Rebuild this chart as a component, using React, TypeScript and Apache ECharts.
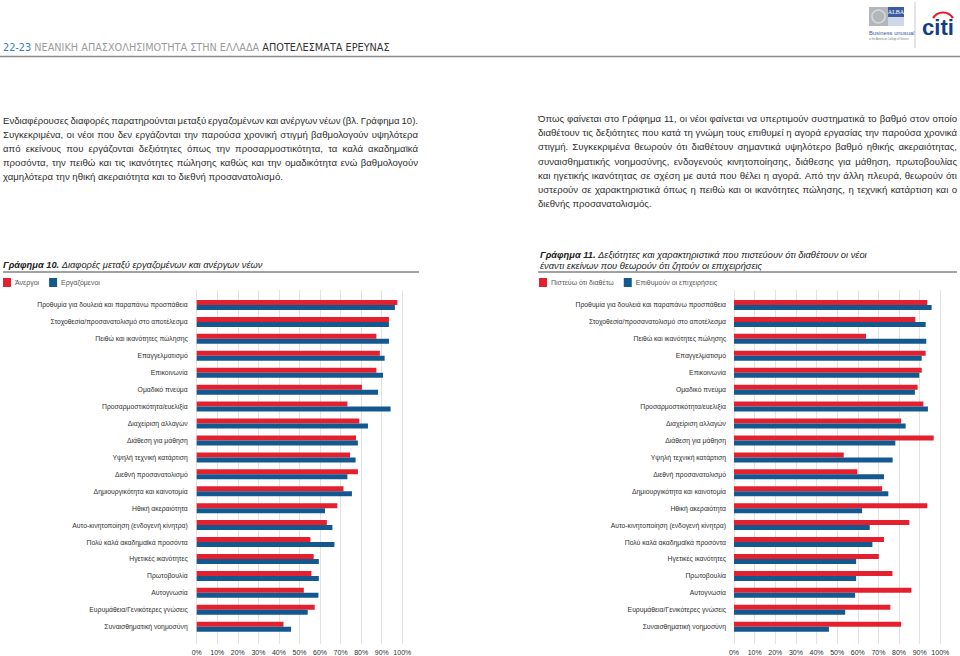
import React, { useEffect, useRef } from 'react';
import * as echarts from 'echarts';

const categories = [
  'Προθυμία για δουλειά και παραπάνω προσπάθεια',
  'Στοχοθεσία/προσανατολισμό στο αποτέλεσμα',
  'Πειθώ και ικανότητες πώλησης',
  'Επαγγελματισμό',
  'Επικοινωνία',
  'Ομαδικό πνεύμα',
  'Προσαρμοστικότητα/ευελιξία',
  'Διαχείριση αλλαγών',
  'Διάθεση για μάθηση',
  'Υψηλή τεχνική κατάρτιση',
  'Διεθνή προσανατολισμό',
  'Δημιουργικότητα και καινοτομία',
  'Ηθική ακεραιότητα',
  'Αυτο-κινητοποίηση (ενδογενή κίνητρα)',
  'Πολύ καλά ακαδημαϊκά προσόντα',
  'Ηγετικές ικανότητες',
  'Πρωτοβουλία',
  'Αυτογνωσία',
  'Ευρυμάθεια/Γενικότερες γνώσεις',
  'Συναισθηματική νοημοσύνη',
];

// Γράφημα 10
const unemployed = [97.6, 93.5, 87.4, 89.1, 87.4, 80.4, 73.3, 79.1, 77.5, 74.6, 78.4, 71.4, 68.4, 63.3, 55.3, 56.9, 55.8, 52.1, 57.4, 42.2];
const employed = [96.4, 93.5, 93.5, 91.4, 90.6, 88.2, 94.3, 83.3, 78.4, 77.3, 73.3, 75.5, 62.4, 66.0, 67.0, 59.4, 59.4, 59.2, 54.0, 45.9];
// Γράφημα 11
const believe = [93.7, 87.9, 64.0, 92.9, 91.0, 89.0, 91.8, 81.0, 96.8, 53.2, 59.8, 71.8, 93.7, 85.0, 72.7, 70.2, 76.8, 86.0, 75.8, 81.0];
const desired = [95.8, 92.9, 93.2, 91.0, 89.8, 87.7, 94.0, 83.2, 78.2, 76.9, 72.7, 74.8, 62.1, 65.8, 67.1, 59.2, 59.2, 58.7, 53.9, 46.0];

const seriesNames10 = ['Άνεργοι', 'Εργαζόμενοι'];
const seriesNames11 = ['Πιστεύω ότι διαθέτω', 'Επιθυμούν οι επιχειρήσεις'];
const xTickSuffix = '%';

const headerNum = '22-23';
const headerLight = 'ΝΕΑΝΙΚΗ ΑΠΑΣΧΟΛΗΣΙΜΟΤΗΤΑ ΣΤΗΝ ΕΛΛΑΔΑ';
const headerBold = 'ΑΠΟΤΕΛΕΣΜΑΤΑ ΕΡΕΥΝΑΣ';

const leftParagraph = [
  'Ενδιαφέρουσες διαφορές παρατηρούνται μεταξύ εργαζομένων και ανέργων νέων (βλ. Γράφημα 10).',
  'Συγκεκριμένα, οι νέοι που δεν εργάζονται την παρούσα χρονική στιγμή βαθμολογούν υψηλότερα',
  'από εκείνους που εργάζονται δεξιότητες όπως την προσαρμοστικότητα, τα καλά ακαδημαϊκά',
  'προσόντα, την πειθώ και τις ικανότητες πώλησης καθώς και την ομαδικότητα ενώ βαθμολογούν',
  'χαμηλότερα την ηθική ακεραιότητα και το διεθνή προσανατολισμό.',
];
const rightParagraph = [
  'Όπως φαίνεται στο Γράφημα 11, οι νέοι φαίνεται να υπερτιμούν συστηματικά το βαθμό στον οποίο',
  'διαθέτουν τις δεξιότητες που κατά τη γνώμη τους επιθυμεί η αγορά εργασίας την παρούσα χρονικά',
  'στιγμή. Συγκεκριμένα θεωρούν ότι διαθέτουν σημαντικά υψηλότερο βαθμό ηθικής ακεραιότητας,',
  'συναισθηματικής νοημοσύνης, ενδογενούς κινητοποίησης, διάθεσης για μάθηση, πρωτοβουλίας',
  'και ηγετικής ικανότητας σε σχέση με αυτά που θέλει η αγορά. Από την άλλη πλευρά, θεωρούν ότι',
  'υστερούν σε χαρακτηριστικά όπως η πειθώ και οι ικανότητες πώλησης, η τεχνική κατάρτιση και ο',
  'διεθνής προσανατολισμός.',
];

const title10 = ['Γράφημα 10.', 'Διαφορές μεταξύ εργαζομένων και ανέργων νέων'];
const title11 = ['Γράφημα 11.', 'Δεξιότητες και χαρακτηριστικά που πιστεύουν ότι διαθέτουν οι νέοι', 'έναντι εκείνων που θεωρούν ότι ζητούν οι επιχειρήσεις'];

const FONT = '"Liberation Sans", Arial, sans-serif';
const NARROW = '"Liberation Sans Narrow", "DejaVu Sans Condensed", "Liberation Sans", sans-serif';
const RED = '#e5202e';
const BLUE = '#13588f';
const TEXT = '#2e2e2e';

let measureCtx: CanvasRenderingContext2D | null = null;
function measure(text: string, font: string) {
  if (!measureCtx) measureCtx = document.createElement('canvas').getContext('2d');
  measureCtx!.font = font;
  return measureCtx!.measureText(text).width;
}

function paragraph(lines: string[], x0: number, x1: number, y0: number, lh: number, size: number) {
  const font = `${size}px ${FONT}`;
  const els: any[] = [];
  lines.forEach((line, i) => {
    const y = y0 + i * lh;
    const baseStyle = { fontSize: size, fontFamily: FONT, fill: TEXT, verticalAlign: 'middle', align: 'left' };
    if (i === lines.length - 1) {
      els.push({ type: 'text', x: x0, y, style: { ...baseStyle, text: line } });
      return;
    }
    const words = line.split(' ');
    const widths = words.map((w) => measure(w, font));
    const total = widths.reduce((a, b) => a + b, 0);
    const gap = Math.max(1.5, (x1 - x0 - total) / (words.length - 1));
    let x = x0;
    words.forEach((w, j) => {
      els.push({ type: 'text', x, y, style: { ...baseStyle, text: w } });
      x += widths[j] + gap;
    });
  });
  return els;
}

function buildGraphic() {
  const els: any[] = [];
  // header
  const hSize = 10.8;
  const hFont = `${hSize}px ${NARROW}`;
  let hx = 3;
  const hy = 47.5;
  els.push({ type: 'text', x: hx, y: hy, style: { text: headerNum, fontSize: hSize, fontFamily: NARROW, fill: '#2f7fb0', verticalAlign: 'middle' } });
  hx += measure(headerNum + ' ', hFont);
  els.push({ type: 'text', x: hx, y: hy, style: { text: headerLight, fontSize: hSize, fontFamily: NARROW, fill: '#9b9b9b', verticalAlign: 'middle' } });
  hx += measure(headerLight + ' ', hFont);
  els.push({ type: 'text', x: hx, y: hy, style: { text: headerBold, fontSize: hSize, fontFamily: NARROW, fill: '#333', verticalAlign: 'middle' } });
  els.push({ type: 'line', shape: { x1: 0, y1: 56.5, x2: 960, y2: 56.5 }, style: { stroke: '#8c8c8c', lineWidth: 1.5 } });

  // ALBA logo
  els.push({ type: 'rect', shape: { x: 869, y: 7, width: 19, height: 19 }, style: { fill: '#b3b7bc' } });
  els.push({ type: 'circle', shape: { cx: 878.5, cy: 16.5, r: 6.5 }, style: { fill: 'none', stroke: '#d6d8db', lineWidth: 1.5 } });
  els.push({ type: 'rect', shape: { x: 888, y: 7, width: 16, height: 10 }, style: { fill: '#3b5ca3' } });
  els.push({ type: 'text', x: 896, y: 12.2, style: { text: 'ALBA', fontSize: 6, fontFamily: '"Liberation Serif", serif', fill: '#fff', align: 'center', verticalAlign: 'middle' } });
  els.push({ type: 'rect', shape: { x: 888, y: 17, width: 16, height: 9 }, style: { fill: '#cfd6e6' } });
  els.push({ type: 'text', x: 869, y: 33, style: { text: 'Business unusual', fontSize: 5.8, fontFamily: FONT, fill: '#3b5ca3', verticalAlign: 'middle' } });
  els.push({ type: 'text', x: 869, y: 39, style: { text: 'at the American College of Greece', fontSize: 2.6, fontFamily: FONT, fill: '#777', verticalAlign: 'middle' } });
  els.push({ type: 'line', shape: { x1: 915, y1: 2, x2: 915, y2: 48 }, style: { stroke: '#c8c8c8', lineWidth: 1 } });
  // citi logo
  els.push({ type: 'text', x: 938, y: 27, style: { text: 'citi', fontSize: 22, fontWeight: 'bold', fontFamily: FONT, fill: '#123e84', align: 'center', verticalAlign: 'middle' } });
  els.push({ type: 'arc', shape: { cx: 943, cy: 24, r: 11.5, startAngle: Math.PI * 1.17, endAngle: Math.PI * 1.83, clockwise: true }, style: { stroke: '#e31b23', lineWidth: 2.2, fill: 'none' } });

  // paragraphs
  els.push(...paragraph(leftParagraph, 3, 418, 120, 14.2, 9.6));
  els.push(...paragraph(rightParagraph, 538, 957, 118.5, 14.2, 9.6));

  // titles
  const tSize = 9.3;
  const boldFont = `italic bold ${tSize}px ${FONT}`;
  const t10w = measure(title10[0] + ' ', boldFont);
  els.push({ type: 'text', x: 3, y: 265, style: { text: title10[0], fontSize: tSize, fontStyle: 'italic', fontWeight: 'bold', fontFamily: FONT, fill: '#222', verticalAlign: 'middle' } });
  els.push({ type: 'text', x: 3 + t10w, y: 265, style: { text: title10[1], fontSize: tSize, fontStyle: 'italic', fontFamily: FONT, fill: '#222', verticalAlign: 'middle' } });
  els.push({ type: 'line', shape: { x1: 3, y1: 272, x2: 419, y2: 272 }, style: { stroke: '#444', lineWidth: 1 } });

  const t11w = measure(title11[0] + ' ', boldFont);
  els.push({ type: 'text', x: 540, y: 255, style: { text: title11[0], fontSize: tSize, fontStyle: 'italic', fontWeight: 'bold', fontFamily: FONT, fill: '#222', verticalAlign: 'middle' } });
  els.push({ type: 'text', x: 540 + t11w, y: 255, style: { text: title11[1], fontSize: tSize, fontStyle: 'italic', fontFamily: FONT, fill: '#222', verticalAlign: 'middle' } });
  els.push({ type: 'text', x: 540, y: 266, style: { text: title11[2], fontSize: tSize, fontStyle: 'italic', fontFamily: FONT, fill: '#222', verticalAlign: 'middle' } });
  els.push({ type: 'line', shape: { x1: 538, y1: 272, x2: 957, y2: 272 }, style: { stroke: '#444', lineWidth: 1 } });
  return els;
}

function buildOption(): any {
  const barTop = 296.5;
  const barH = 338.7;
  const lineTop = 290;
  const lineH = 356;
  const L = { left: 196.7, width: 205.6 };
  const R = { left: 734, width: 206.3 };
  const catAxis = (gridIndex: number, margin: number) => ({
    type: 'category',
    gridIndex,
    data: categories,
    inverse: true,
    axisLine: { show: false },
    axisTick: { show: false },
    axisLabel: { fontSize: 6.8, fontFamily: FONT, color: TEXT, margin },
  });
  const hiddenX = (gridIndex: number) => ({
    type: 'value', gridIndex, min: 0, max: 100, interval: 10,
    axisLine: { show: false }, axisTick: { show: false }, axisLabel: { show: false }, splitLine: { show: false },
  });
  const gridX = (gridIndex: number) => ({
    type: 'value', gridIndex, min: 0, max: 100, interval: 10,
    axisLine: { show: false }, axisTick: { show: false },
    axisLabel: { fontSize: 7, fontFamily: FONT, color: TEXT, margin: 5, formatter: (v: number) => v + xTickSuffix },
    splitLine: { show: true, lineStyle: { color: '#e2e2e2', width: 1 } },
  });
  const hiddenY = (gridIndex: number) => ({ type: 'value', gridIndex, min: 0, max: 1, show: false });
  const bar = (name: string, data: number[], color: string, idx: number) => ({
    type: 'bar', name, data, xAxisIndex: idx, yAxisIndex: idx,
    barWidth: 5, barGap: '0%', itemStyle: { color }, z: 3,
  });
  const legend = (data: string[], left: number) => ({
    data, left, top: 278, itemWidth: 8, itemHeight: 9, itemGap: 10, icon: 'rect', padding: 0,
    textStyle: { fontSize: 7, fontFamily: FONT, color: '#555', padding: [0, 0, 0, -1] },
  });
  return {
    animation: false,
    backgroundColor: '#ffffff',
    textStyle: { fontFamily: FONT },
    grid: [
      { left: L.left, top: barTop, width: L.width, height: barH },
      { left: R.left, top: barTop, width: R.width, height: barH },
      { left: L.left, top: lineTop, width: L.width, height: lineH },
      { left: R.left, top: lineTop, width: R.width, height: lineH },
    ],
    xAxis: [hiddenX(0), hiddenX(1), gridX(2), gridX(3)],
    yAxis: [catAxis(0, 9), catAxis(1, 8), hiddenY(2), hiddenY(3)],
    legend: [legend(seriesNames10, 3), legend(seriesNames11, 539)],
    series: [
      bar(seriesNames10[0], unemployed, RED, 0),
      bar(seriesNames10[1], employed, BLUE, 0),
      bar(seriesNames11[0], believe, RED, 1),
      bar(seriesNames11[1], desired, BLUE, 1),
    ],
    graphic: buildGraphic(),
  };
}

export default function App() {
  const ref = useRef<HTMLDivElement>(null);
  useEffect(() => {
    const chart = echarts.init(ref.current!, null, { renderer: 'svg' });
    chart.setOption(buildOption());
    return () => chart.dispose();
  }, []);
  return (
    <div
      ref={ref}
      style={{ position: 'fixed', left: 0, top: 0, width: 960, height: 656, background: '#fff' }}
    />
  );
}
